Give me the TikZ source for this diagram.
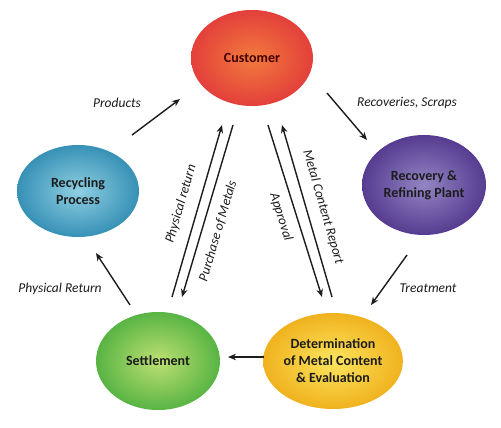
\documentclass[tikz,border=0pt]{standalone}
\usepackage{fontspec}
\setmainfont{Carlito}
\usetikzlibrary{arrows.meta,shapes.geometric}
\definecolor{custO}{HTML}{E3403B}
\definecolor{custI}{HTML}{F27A3C}
\definecolor{recyO}{HTML}{3791B6}
\definecolor{recyI}{HTML}{8FCFE2}
\definecolor{recoO}{HTML}{563C90}
\definecolor{recoI}{HTML}{9385C4}
\definecolor{setO}{HTML}{58B444}
\definecolor{setI}{HTML}{BDE072}
\definecolor{detO}{HTML}{F0B21E}
\definecolor{detI}{HTML}{FCE55E}
\definecolor{ink}{HTML}{1C1C1C}
\begin{document}
\begin{tikzpicture}[x=1pt,y=-1pt,
  blob/.style={ellipse, minimum width=122pt, minimum height=96pt, inner sep=0pt,
    align=center, font=\bfseries\fontsize{14}{17}\selectfont, text=ink},
  lab/.style={font=\itshape\fontsize{13.5}{16}\selectfont, text=ink, inner sep=1pt},
  arr/.style={line width=1.4pt, draw=ink, -{Stealth[length=8pt,width=6.5pt]}}]
\useasboundingbox (0,0) rectangle (501,428);
\fill[white] (0,0) rectangle (501,428);

% ellipses
\node[blob, inner color=custI, outer color=custO, text=red!25!black] (cust) at (252,58) {Customer};
\node[blob, minimum height=92pt, inner color=recyI, outer color=recyO] (recy) at (78,191) {Recycling\\Process};
\node[blob, minimum width=124pt, minimum height=100pt, inner color=recoI, outer color=recoO] (reco) at (424,185) {Recovery \&\\Refining Plant};
\node[blob, minimum width=124pt, minimum height=98pt, inner color=setI, outer color=setO] (sett) at (158,361) {Settlement};
\node[blob, inner color=detI, outer color=detO] (det) at (333,361) {Determination\\of Metal Content\\\& Evaluation};

% outer arrows
\coordinate (p1) at (132,135); \coordinate (p2) at (180,99);
\draw[arr] (p1) -- (p2);
\node[lab] (lprod) at (117,103) {Products};

\coordinate (r1) at (327,93); \coordinate (r2) at (367,140);
\draw[arr] (r1) -- (r2);
\node[lab] (lrec) at (407,103) {Recoveries, Scraps};

\coordinate (t1) at (407,255); \coordinate (t2) at (371,305);
\draw[arr] (t1) -- (t2);
\node[lab] (ltreat) at (428,288) {Treatment};

\coordinate (s1) at (264,357); \coordinate (s2) at (228,357);
\draw[arr] (s1) -- (s2);

\coordinate (f1) at (130,305); \coordinate (f2) at (96,253);
\draw[arr] (f1) -- (f2);
\node[lab] (lphys) at (60,289) {Physical Return};

% central arrows
\coordinate (a1) at (172,297); \coordinate (a2) at (222,125);
\draw[arr] (a1) -- (a2);
\coordinate (b1) at (233,125); \coordinate (b2) at (182,297);
\draw[arr] (b1) -- (b2);
\coordinate (c1) at (268,125); \coordinate (c2) at (322,297);
\draw[arr] (c1) -- (c2);
\coordinate (d1) at (332,297); \coordinate (d2) at (282,125);
\draw[arr] (d1) -- (d2);

\node[lab, rotate=73.8] (lpr) at (181,204) {Physical return};
\node[lab, rotate=73.5] (lpm) at (218,231) {Purchase of Metals};
\node[lab, rotate=-72.6] (lapp) at (281,217) {Approval};
\node[lab, rotate=-73.8] (lmcr) at (323,207) {Metal Content Report};
\end{tikzpicture}
\end{document}
